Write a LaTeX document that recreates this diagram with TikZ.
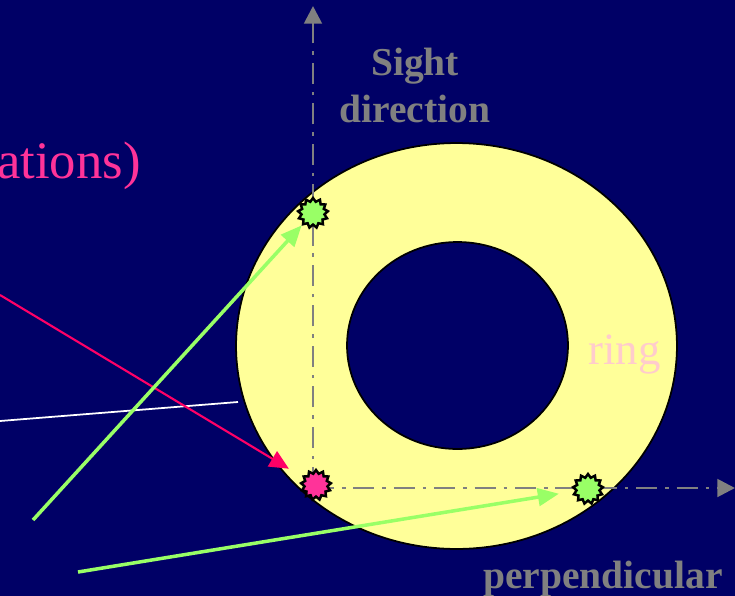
\documentclass[tikz,border=0pt]{standalone}
\usepackage{fontspec}
\setmainfont{Liberation Serif}
\usetikzlibrary{positioning,arrows.meta,shapes.geometric}
\definecolor{navybg}{RGB}{0,0,102}
\definecolor{ringyellow}{RGB}{255,255,153}
\definecolor{axisgray}{RGB}{128,128,128}
\definecolor{lightgreen}{RGB}{153,255,102}
\definecolor{hotpink}{RGB}{255,51,153}
\definecolor{deeppink}{RGB}{255,0,102}
\definecolor{ringpink}{RGB}{255,204,204}

\begin{document}
\begin{tikzpicture}[x=0.02cm,y=-0.02cm,
  spot/.style={star,star points=13,star point ratio=1.3,draw=black,line width=1.4pt,minimum size=0.6cm,inner sep=0pt},
  axis/.style={axisgray,line width=1.6pt,dash pattern=on 12pt off 4.5pt on 2pt off 4.5pt,-{Triangle[length=10pt,width=10pt]}},
  ray/.style={lightgreen,line width=2pt,-{Triangle[length=12pt,width=10pt]}},
  graylabel/.style={text=axisgray,font=\fontsize{22.5}{26.5}\selectfont\bfseries,inner sep=0pt}]
\useasboundingbox (0,0) rectangle (735,596);
\fill[navybg] (0,0) rectangle (735,596);
\clip (0,0) rectangle (735,596);

% the ring
\filldraw[ringyellow,draw=black,line width=1pt,even odd rule]
  (456.5,346) ellipse [x radius=4.41cm,y radius=4.06cm]
  (457.5,345.5) ellipse [x radius=2.21cm,y radius=2.07cm];
\node[text=ringpink,font=\fontsize{25.5}{28}\selectfont,anchor=base west,inner sep=0pt] (ringlabel) at (588,364) {ring};

% axes
\coordinate (origin) at (313,488);
\coordinate (vtop) at (313,6);
\coordinate (hend) at (735,488);
\draw[axis] (origin) -- (vtop);
\draw[axis] (origin) -- (hend);
\node[graylabel,align=center,anchor=base] (sightlabel) at (415,122) {Sight\\direction};
\node[graylabel,anchor=base west] (perplabel) at (483,588) {perpendicular};

% incoming lines
\coordinate (w1) at (0,421);
\coordinate (w2) at (238,402);
\draw[white,line width=1pt] (w1) -- (w2);

\node[spot,fill=lightgreen] (topspot) at (313,213) {};
\node[spot,fill=lightgreen] (sidespot) at (588,489) {};
\node[spot,fill=hotpink] (originspot) at (316,485) {};

\coordinate (p1) at (0,295);
\draw[deeppink,line width=1.2pt,-{Triangle[length=11pt,width=10pt]},shorten >=9pt] (p1) -- (originspot);
\coordinate (g1) at (33,520);
\draw[ray] (g1) -- (topspot);
\coordinate (g2) at (78,572);
\draw[ray,shorten >=9pt] (g2) -- (sidespot);

\node[text=hotpink,font=\fontsize{30}{34}\selectfont,anchor=base east,inner sep=0pt] (cutlabel) at (141,178) {ations)};
\end{tikzpicture}
\end{document}
